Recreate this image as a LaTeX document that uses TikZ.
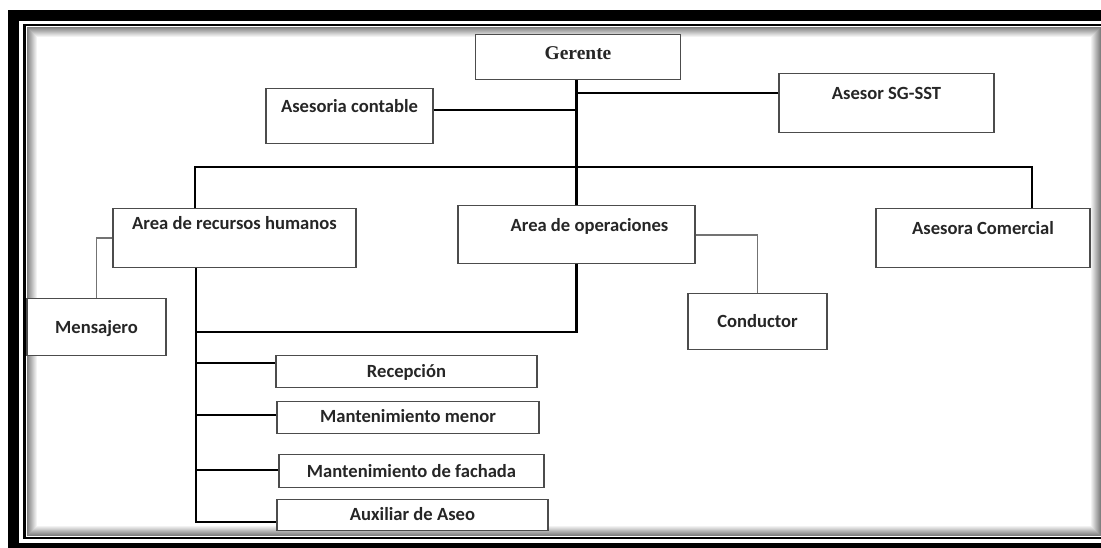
\documentclass[tikz,border=0pt]{standalone}
\usepackage{fontspec}
\setmainfont{Carlito}
\newfontfamily\serifa{Liberation Serif}
\begin{document}
\begin{tikzpicture}[x=1pt, y=-1pt,
  caja/.style={draw=black!70, line width=1.4pt, fill=white, inner sep=0pt, anchor=north, text=black!85, font=\fontsize{18.6}{21}\selectfont\bfseries},
  linea/.style={line width=2.2pt},
  fino/.style={draw=black!55, line width=1.6pt}]
\clip (0,0) rectangle (1101,547);
\fill[white] (0,0) rectangle (1101,547);
\draw[line width=11pt] (13.5,15.5) rectangle (1120,548.5);
\draw[line width=2.5pt] (24.5,25) rectangle (1110,538);
\foreach \i [evaluate=\i as \g using int(50-5*\i)] in {0,...,9} \draw[black!\g, line width=1pt] (27.5+\i,27.5+\i) rectangle (1100.5-\i,535.5-\i);
\node[caja, minimum width=205pt, text height=25pt, text depth=20pt, font=\fontsize{19.5}{22}\selectfont\serifa\bfseries] (ger) at (578,34) {Gerente};
\node[caja, minimum width=167pt, text height=23.5pt, text depth=31.5pt] (cont) at (349.5,88) {Asesoria contable};
\node[caja, minimum width=215pt, text height=25.5pt, text depth=33.5pt] (sst) at (886.5,73) {Asesor SG-SST};
\node[caja, minimum width=243pt, text height=20.5pt, text depth=38.5pt] (rrhh) at (234.5,208) {Area de recursos humanos};
\node[caja, minimum width=237pt, text height=25.5pt, text depth=32.5pt] (oper) at (576.5,205) {\hspace*{26pt}Area de operaciones};
\node[caja, minimum width=214pt, text height=25.5pt, text depth=33.5pt] (com) at (983,208) {Asesora Comercial};
\node[caja, minimum width=139pt, text height=34.5pt, text depth=22.5pt] (mens) at (96.5,298) {Mensajero};
\node[caja, minimum width=139pt, text height=34pt, text depth=22pt] (cond) at (757.5,293) {Conductor};
\node[caja, minimum width=261pt, text height=21.5pt, text depth=10.5pt] (rec) at (406.5,355) {Recepción};
\node[caja, minimum width=262pt, text height=20.5pt, text depth=11.5pt] (menor) at (408,401) {Mantenimiento menor};
\node[caja, minimum width=265pt, text height=22.5pt, text depth=10.5pt] (fach) at (411.5,454) {Mantenimiento de fachada};
\node[caja, minimum width=271pt, text height=20.5pt, text depth=10.5pt] (aux) at (412.5,499) {Auxiliar de Aseo};
\coordinate (busizq) at (195,167);
\coordinate (busder) at (1032,167);
\coordinate (tronco) at (196,522);
\coordinate (enlace) at (196,332);
\draw[linea] (oper.north |- ger.south) -- (oper.north);
\draw[linea] ([yshift=6.5pt]cont.east) -- ([yshift=6.5pt]cont.east -| oper.north);
\draw[linea] ([yshift=10.5pt]sst.west) -- ([yshift=10.5pt]sst.west -| oper.north);
\draw[linea] (busizq |- rrhh.north) -- (busizq) -- (busder) -- (busder |- com.north);
\draw[linea] (tronco |- rrhh.south) -- (tronco) -- (tronco -| aux.west);
\draw[linea] (oper.south) |- (enlace);
\foreach \n/\d in {rec/9, menor/3, fach/1.5} \draw[linea] ([yshift=\d pt]\n.west) -- ([yshift=\d pt]\n.west -| tronco);
\draw[fino] (rrhh.west) -| (mens.north);
\draw[fino] (oper.east) -| (cond.north);
\end{tikzpicture}
\end{document}
